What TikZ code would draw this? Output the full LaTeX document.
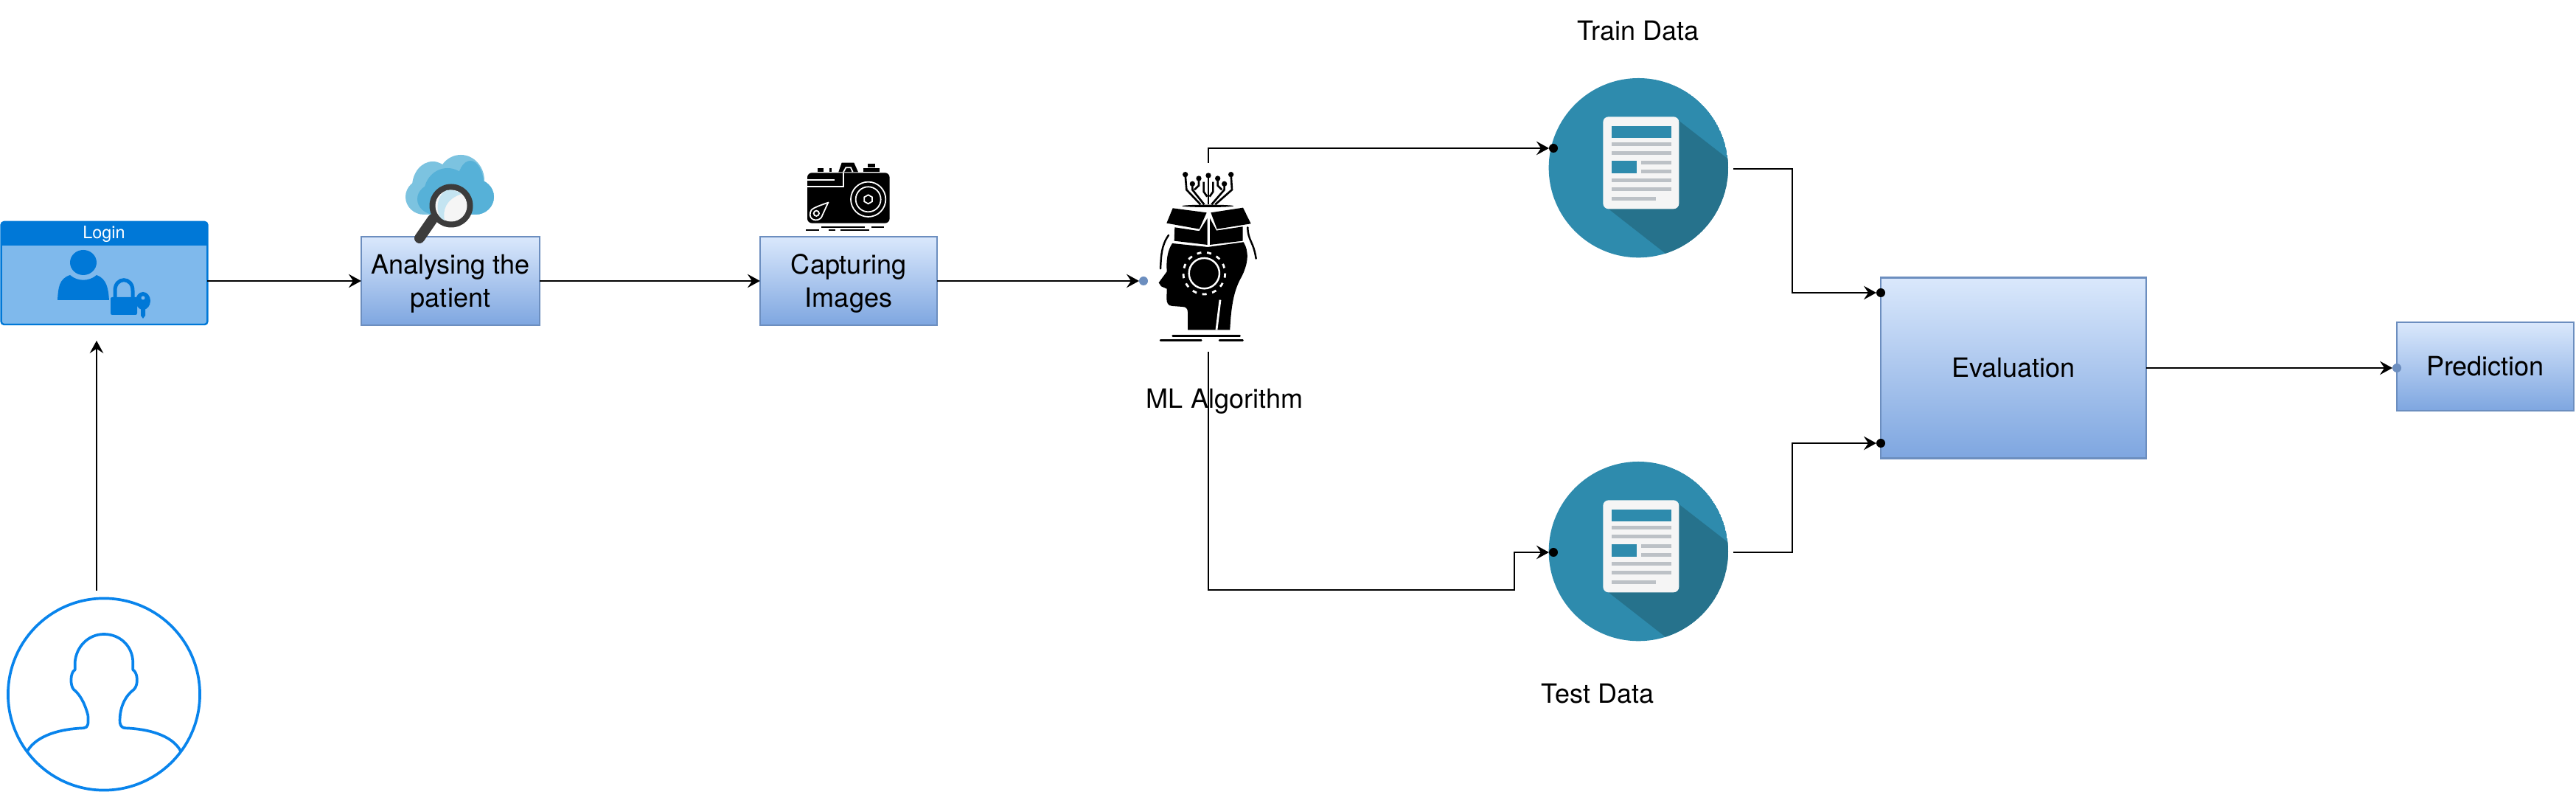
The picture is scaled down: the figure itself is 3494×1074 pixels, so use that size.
\documentclass[tikz,border=0pt]{standalone}
\usepackage{fontspec}
\setmainfont{TeX Gyre Heros}
\usetikzlibrary{arrows.meta}
\definecolor{boxtop}{HTML}{DAE8FC}
\definecolor{boxlow}{HTML}{7EA6E0}
\definecolor{boxline}{HTML}{6C8EBF}
\definecolor{azure}{HTML}{0078D7}
\definecolor{azurelight}{HTML}{7FB9EC}
\definecolor{actorblue}{HTML}{0984EC}
\definecolor{cloudlight}{HTML}{7CC3E0}
\definecolor{clouddark}{HTML}{56B1D8}
\definecolor{lensring}{HTML}{3C3C3C}
\definecolor{docblue}{HTML}{2E8BAD}
\definecolor{docshade}{HTML}{26728C}
\definecolor{docgrey}{HTML}{BCC1C6}
\definecolor{docpaper}{HTML}{F5F5F5}
\newcommand{\linedown}{\rule{0pt}{9.6pt}}
\tikzset{
  flowbox/.style={rectangle,draw=boxline,line width=0.026cm,top color=boxtop,bottom color=boxlow,
    inner sep=0pt,outer sep=0pt,align=center,font=\fontsize{10.25}{12.6}\selectfont},
  caption/.style={inner sep=0pt,align=center,font=\fontsize{10.25}{12.6}\selectfont},
  dot/.style={circle,fill=black,inner sep=0pt,outer sep=0pt,minimum size=0.12cm},
  bluedot/.style={dot,fill=boxline},
  flow/.style={line width=0.027cm,-{Stealth[length=4.8pt,width=5.2pt,inset=1.7pt]}},
  actoricon/.pic={
    \draw[actorblue,line width=0.037cm,line join=round]
      (112,715) .. controls (150,650) and (250,625) .. (340,622)
      .. controls (360,620) and (360,605) .. (358,570)
      .. controls (345,520) and (325,485) .. (300,465)
      .. controls (285,450) and (285,395) .. (305,385) -- (305,355)
      .. controls (310,290) and (360,240) .. (423,240)
      .. controls (490,240) and (540,290) .. (541,355) -- (541,385)
      .. controls (560,395) and (565,445) .. (545,465)
      .. controls (510,490) and (485,540) .. (488,600)
      .. controls (490,615) and (500,622) .. (510,622)
      .. controls (600,625) and (700,650) .. (735,715);
  },
  docicon/.pic={
    \begin{scope}
      \clip (487,443) circle (365);
      \fill[docblue] (487,443) circle (365);
      \fill[docshade] (650,250) -- (950,483) -- (950,950) -- (800,950) -- (365,610) -- cycle;
    \end{scope}
    \fill[docpaper,rounded corners=2.1pt] (343,235) rectangle (652,610);
    \fill[docblue] (377,272) rectangle (620,320);
    \fill[docblue] (377,413) rectangle (479,466);
    \fill[docgrey] (377,340) rectangle (620,355);
    \fill[docgrey] (377,376) rectangle (620,391);
    \fill[docgrey] (498,413) rectangle (620,428);
    \fill[docgrey] (498,450) rectangle (620,465);
    \fill[docgrey] (377,487) rectangle (620,502);
    \fill[docgrey] (377,523) rectangle (620,538);
    \fill[docgrey] (377,560) rectangle (558,575);
  },
  headicon/.pic={
    \fill (215,640) -- (248,595) .. controls (245,550) and (250,510) .. (270,480)
      -- (415,495) -- (560,475) .. controls (582,510) and (582,560) .. (550,620)
      .. controls (525,665) and (510,720) .. (505,832) -- (333,832) -- (333,760)
      .. controls (333,745) and (325,738) .. (310,738) -- (270,735)
      .. controls (252,735) and (247,720) .. (247,705) -- (248,665) -- (225,655) -- cycle;
    \fill (280,415) -- (380,430) -- (413,378) -- (413,486) -- (278,470) -- cycle;
    \fill (423,378) -- (450,428) -- (557,412) -- (557,470) -- (423,486) -- cycle;
    \fill (272,337) -- (410,355) -- (380,422) -- (247,398) -- cycle;
    \fill (427,355) -- (558,335) -- (590,400) -- (452,422) -- cycle;
    \fill (415,328) ellipse [x radius=105,y radius=5];
    \draw[line width=0.8pt,white] (465,710) -- (450,832);
    \draw[line width=0.7pt,white] (400,602) circle (62);
    \draw[line width=0.8pt,white,dash pattern=on 1.7pt off 2.2pt] (400,602) circle (85);
    \begin{scope}[line width=0.75pt]
      \draw (323,200) -- (328,262) -- (385,322);
      \draw (352,238) -- (352,262) -- (400,322);
      \draw (378,216) -- (378,245) -- (360,262);
      \draw (417,204) -- (417,322);
      \draw (398,230) -- (398,270) -- (412,290);
      \draw (436,230) -- (436,270) -- (422,290);
      \draw (509,200) -- (513,262) -- (445,322);
      \draw (482,238) -- (482,262) -- (430,322);
      \draw (455,216) -- (455,245) -- (472,262);
    \end{scope}
    \fill (323,200) circle (11);
    \fill (378,216) circle (11);
    \fill (417,204) circle (11);
    \fill (455,216) circle (11);
    \fill (509,200) circle (11);
    \fill (352,238) circle (11);
    \fill (482,238) circle (11);
    \begin{scope}[line width=0.7pt,line cap=round]
      \draw (255,447) .. controls (225,490) and (225,530) .. (222,583);
      \draw (577,415) .. controls (578,470) and (600,470) .. (611,542);
      \draw (272,856) -- (545,856);
      \draw (222,875) -- (388,875);
      \draw (462,875) -- (557,875);
    \end{scope}
  },
  cameraicon/.pic={
    \fill[rounded corners=1.8pt] (285,133) rectangle (620,338);
    \fill (327,115) rectangle (352,130);
    \fill (374,115) rectangle (385,130);
    \fill (412,130) -- (425,92) -- (475,92) -- (492,130) -- cycle;
    \fill (512,115) rectangle (580,130);
    \fill (532,97) rectangle (560,110);
    \begin{scope}[white,line width=0.5pt]
      \draw (432,130) -- (442,112) -- (462,112) -- (470,130);
      \draw (285,162) -- (395,162);
      \draw (285,190) -- (432,190) -- (432,133);
      \draw (533,241) circle (71);
      \draw (533,241) circle (51);
      \draw (533,223) -- (549,232) -- (549,250) -- (533,259) -- (517,250) -- (517,232) -- cycle;
      \draw (370,254) -- (342,315) .. controls (325,335) and (290,325) .. (297,295)
        .. controls (300,280) and (310,275) .. cycle;
      \draw (322,298) circle (11);
    \end{scope}
    \begin{scope}[line width=0.5pt]
      \draw (342,354) -- (518,354);
      \draw (545,354) -- (597,354);
      \draw (280,366) -- (333,366);
      \draw (373,366) -- (400,366);
      \draw (421,366) -- (537,366);
    \end{scope}
  }
}
\begin{document}
\begin{tikzpicture}[x=0.01cm,y=-0.01cm]
  \useasboundingbox (0,0) rectangle (3494,1074);
  \node[circle,draw=actorblue,line width=0.037cm,minimum size=2.6cm,inner sep=0pt] (actor) at (141,941.5) {};
  \pic[scale=0.3333] at (0,780) {actoricon};

  \node[rectangle,rounded corners=1.1pt,draw=azure,line width=0.024cm,fill=azurelight,
    minimum width=2.795cm,minimum height=1.39cm,inner sep=0pt] (login) at (141.5,370.5) {};
  \fill[azure] (1.5,333) [rounded corners=1.1pt] -- (1.5,301) -- (281,301) [sharp corners] -- (281,333) -- cycle;
  \node[inner sep=0pt,text=white,font=\fontsize{6.65}{8}\selectfont] (logintext) at (141,318) {Login};
  \fill[azure] (113,356) ellipse [x radius=18,y radius=17];
  \fill[azure] (78,407) .. controls (79,390) and (80,378) .. (95,373)
    .. controls (105,382) and (121,382) .. (131,373)
    .. controls (145,378) and (147,392) .. (148,407) -- cycle;
  \draw[azurelight,line width=0.06cm] (168,391) circle (18);
  \draw[azure,line width=0.05cm] (156,405) -- (156,394) .. controls (156,375) and (180,375) .. (180,394) -- (180,405);
  \fill[azure,rounded corners=0.6pt] (150,403) rectangle (186,427);
  \fill[azure] (194,408) ellipse [x radius=10,y radius=12];
  \fill[azurelight] (194,404) circle (2.5);
  \fill[azure] (191,416) -- (197,416) -- (197,428) -- (194,432) -- (191,428) -- cycle;

  \node[flowbox,minimum width=2.42cm,minimum height=1.2cm] (analyse) at (611,381) {\linedown Analysing the\\patient};
  \fill[cloudlight] (625,245) ellipse [x radius=32,y radius=35];
  \fill[cloudlight] (587,253) ellipse [x radius=28,y radius=34];
  \fill[cloudlight] (575,267) ellipse [x radius=25,y radius=24];
  \fill[cloudlight] (645,267) ellipse [x radius=25,y radius=24];
  \fill[cloudlight] (575,260) rectangle (645,291);
  \fill[clouddark] (607,262) ellipse [x radius=32,y radius=34];
  \fill[clouddark] (638,250) ellipse [x radius=18,y radius=32];
  \fill[clouddark] (645,267) ellipse [x radius=25,y radius=24];
  \fill[clouddark] (590,270) ellipse [x radius=24,y radius=21];
  \fill[clouddark] (590,270) rectangle (645,291);
  \draw[lensring,line width=0.14cm,line cap=round] (587,297) -- (569,323);
  \fill[lensring] (612,279) circle (29.5);
  \fill[docpaper] (612,279) circle (21.5);
  \fill[cloudlight!45] (606,258) .. controls (590,265) and (590,295) .. (603,299)
    .. controls (600,285) and (605,270) .. (626,263) .. controls (620,258) and (612,257) .. (606,258) -- cycle;

  \pic[scale=0.3333] at (1000,190) {cameraicon};
  \node[flowbox,minimum width=2.4cm,minimum height=1.2cm] (capture) at (1151,381) {\linedown Capturing\\Images};

  \pic[scale=0.3333] at (1500,170) {headicon};
  \node[caption] (mlname) at (1661,544) {ML Algorithm};
  \node[bluedot] (headdot) at (1551,381) {};
  \coordinate (headtop) at (1639,221);
  \coordinate (headlow) at (1639,477);
  \coordinate (testbend) at (2054,800);

  \pic[scale=0.3333] at (2060,80) {docicon};
  \pic[scale=0.3333] at (2060,600) {docicon};
  \node[dot] (traindot) at (2107,201) {};
  \node[dot] (testdot) at (2107,749) {};
  \node[caption] (trainname) at (2222,42) {Train Data};
  \node[caption] (testname) at (2167,941) {Test Data};
  \coordinate (trainout) at (2351,229);
  \coordinate (testout) at (2351,749);
  \coordinate (joinup) at (2431,397);
  \coordinate (joinlow) at (2431,601);

  \node[flowbox,minimum width=3.6cm,minimum height=2.45cm] (eval) at (2731,499) {Evaluation};
  \node[dot] (evaltop) at (2551,397) {};
  \node[dot] (evallow) at (2551,601) {};
  \node[flowbox,minimum width=2.4cm,minimum height=1.2cm] (predict) at (3371,497) {Prediction};
  \node[bluedot] (preddot) at (3251,499) {};

  \coordinate (actortop) at (131,801);
  \coordinate (logindoor) at (131,462);
  \coordinate (loginout) at (281,381);

  \begin{scope}[flow]
    \draw (actortop) to (logindoor);
    \draw (loginout) to (analyse);
    \draw (analyse) to (capture);
    \draw (capture) to (headdot);
    \draw (headtop) |- (traindot);
    \draw (headlow) |- (testbend) |- (testdot);
    \draw (trainout) -| (joinup) -- (evaltop);
    \draw (testout) -| (joinlow) -- (evallow);
    \draw (eval) to (preddot);
  \end{scope}
\end{tikzpicture}
\end{document}
